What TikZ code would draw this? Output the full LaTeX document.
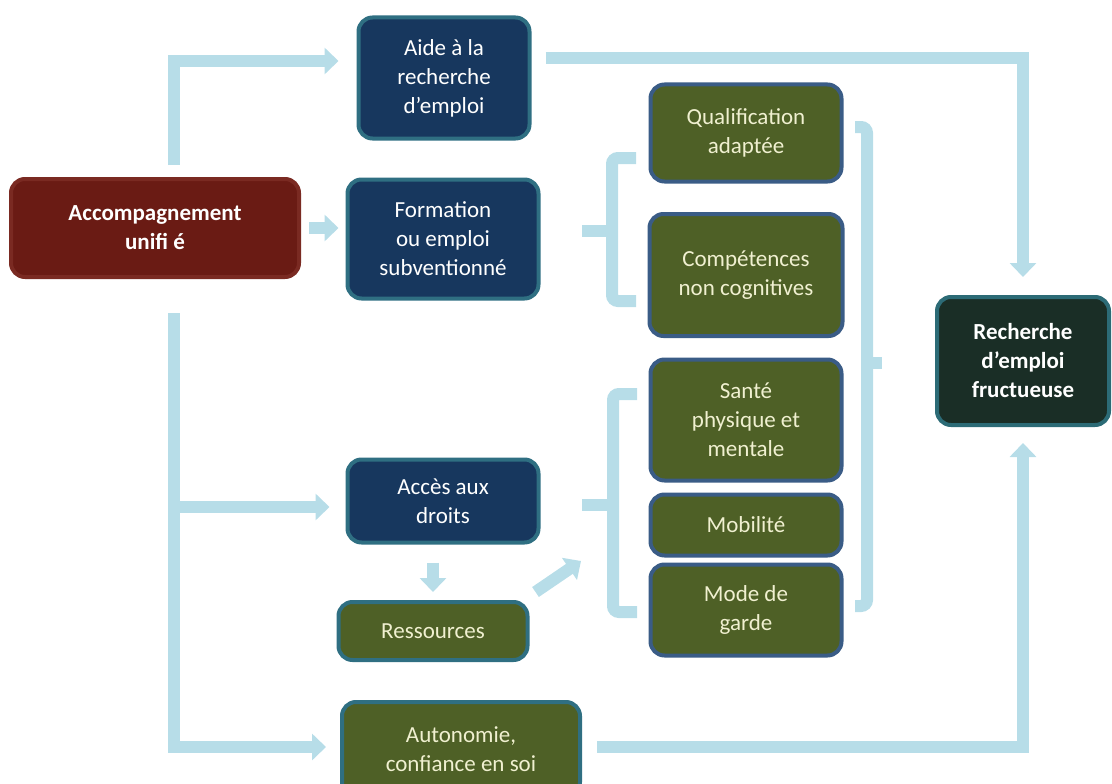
\documentclass[tikz,border=0pt]{standalone}
\usepackage{fontspec}
\setmainfont{Carlito}
\usetikzlibrary{arrows.meta}

\definecolor{flowblue}{HTML}{B7DDE8}
\definecolor{navyfill}{HTML}{17375E}
\definecolor{tealedge}{HTML}{2F6F82}
\definecolor{redfill}{HTML}{6A1B14}
\definecolor{rededge}{HTML}{7A2A22}
\definecolor{olivefill}{HTML}{4E6026}
\definecolor{slateedge}{HTML}{3A5C86}
\definecolor{darkfill}{HTML}{1A2E26}
\definecolor{darkedge}{HTML}{2C6B76}
\definecolor{cream}{HTML}{F0F0D0}

\tikzset{
  box/.style={rounded corners=14pt, line width=4pt, align=center, inner sep=0pt,
              font=\fontsize{23}{29}\selectfont},
  navybox/.style={box, fill=navyfill, draw=tealedge, text=white},
  redbox/.style={box, fill=redfill, draw=rededge, text=white, font=\fontsize{23}{29}\selectfont\bfseries},
  olivebox/.style={box, fill=olivefill, draw=slateedge, text=cream},
  olivetbox/.style={box, fill=olivefill, draw=tealedge, text=cream},
  goalbox/.style={box, fill=darkfill, draw=darkedge, text=white, font=\fontsize{23}{29}\selectfont\bfseries},
  flow/.style={draw=flowblue, line width=12pt, -{Triangle[width=26pt,length=14pt]}},
  brace/.style={draw=flowblue, line width=12pt, rounded corners=6pt},
}

\begin{document}
\begin{tikzpicture}[x=1pt, y=-1pt]
\useasboundingbox (0,0) rectangle (1112,784);

% boxes
\node[redbox, minimum width=288pt, minimum height=98pt] (acc) at (155,228) {Accompagnement\\unifi é};
\node[navybox, minimum width=171pt, minimum height=121pt] (aide) at (444,78) {Aide à la\\recherche\\d’emploi};
\node[navybox, minimum width=191pt, minimum height=119pt] (form) at (443,239) {Formation\\ou emploi\\subventionné};
\node[navybox, minimum width=191pt, minimum height=83pt] (acces) at (443,501) {Accès aux\\droits};
\node[olivetbox, minimum width=189pt, minimum height=58pt] (ress) at (433,631) {Ressources};
\node[olivetbox, minimum width=238pt, minimum height=94pt] (auto) at (461,749) {Autonomie,\\confiance en soi};

\node[olivebox, minimum width=191pt, minimum height=97pt] (qual) at (746,133) {Qualification\\adaptée};
\node[olivebox, minimum width=193pt, minimum height=122pt] (comp) at (746,275) {Compétences\\non cognitives};
\node[olivebox, minimum width=191pt, minimum height=121pt] (sante) at (746,420) {Santé\\physique et\\mentale};
\node[olivebox, minimum width=191pt, minimum height=61pt] (mob) at (746,525) {Mobilité};
\node[olivebox, minimum width=191pt, minimum height=91pt] (garde) at (746,610) {Mode de\\garde};

\node[goalbox, minimum width=172pt, minimum height=128pt] (rech) at (1023,361) {Recherche\\d’emploi\\fructueuse};

% free ends of the spine
\coordinate (upStart) at (174,165);
\coordinate (spineTop) at (174,313);
\coordinate (spineMid) at (174,507);

% arrows out of the unified support
\draw[flow] (upStart) |- ([xshift=-18pt,yshift=17pt]aide.west);
\draw[flow] ([xshift=8pt]acc.east) -- ([xshift=-7pt]acc.east -| form.west);
\draw[flow] (spineTop) |- ([xshift=-14pt,yshift=2pt]auto.west);
\draw[flow] (spineMid) -- ([xshift=-16pt,yshift=-6pt]acces.west);

% arrows towards the successful job search
\draw[flow] ([xshift=14pt,yshift=20pt]aide.east) -| ([yshift=18pt]rech.north);
\draw[flow] ([xshift=15pt,yshift=2pt]auto.east) -| ([yshift=-16pt]rech.south);

% rights -> resources -> conditions
\path ([yshift=-18pt]acces.south) coordinate (dA);
\draw[flow] (dA -| ress.north) -- ([yshift=8pt]ress.north);
\coordinate (diagTip) at (581,561);
\draw[flow] ([xshift=6pt,yshift=8pt]ress.north east) -- (diagTip);

% bracket grouping qualification and skills
\coordinate (b1t) at (636,158);
\coordinate (b1b) at (636,301);
\coordinate (b1m) at (582,231);
\draw[brace] (b1t) -- (612,158) -- (612,301) -- (b1b);
\draw[brace] (b1m) -- (612,231);

% bracket grouping health, mobility and childcare
\coordinate (b2t) at (637,394);
\coordinate (b2b) at (637,612);
\coordinate (b2m) at (582,505);
\draw[brace] (b2t) -- (613,394) -- (613,612) -- (b2b);
\draw[brace] (b2m) -- (613,505);

% bracket gathering all conditions
\coordinate (b3t) at (855,127);
\coordinate (b3b) at (855,606);
\coordinate (b3m) at (882,363);
\draw[brace] (b3t) -- (867,127) -- (867,606) -- (b3b);
\draw[brace] (867,363) -- (b3m);
\end{tikzpicture}
\end{document}
